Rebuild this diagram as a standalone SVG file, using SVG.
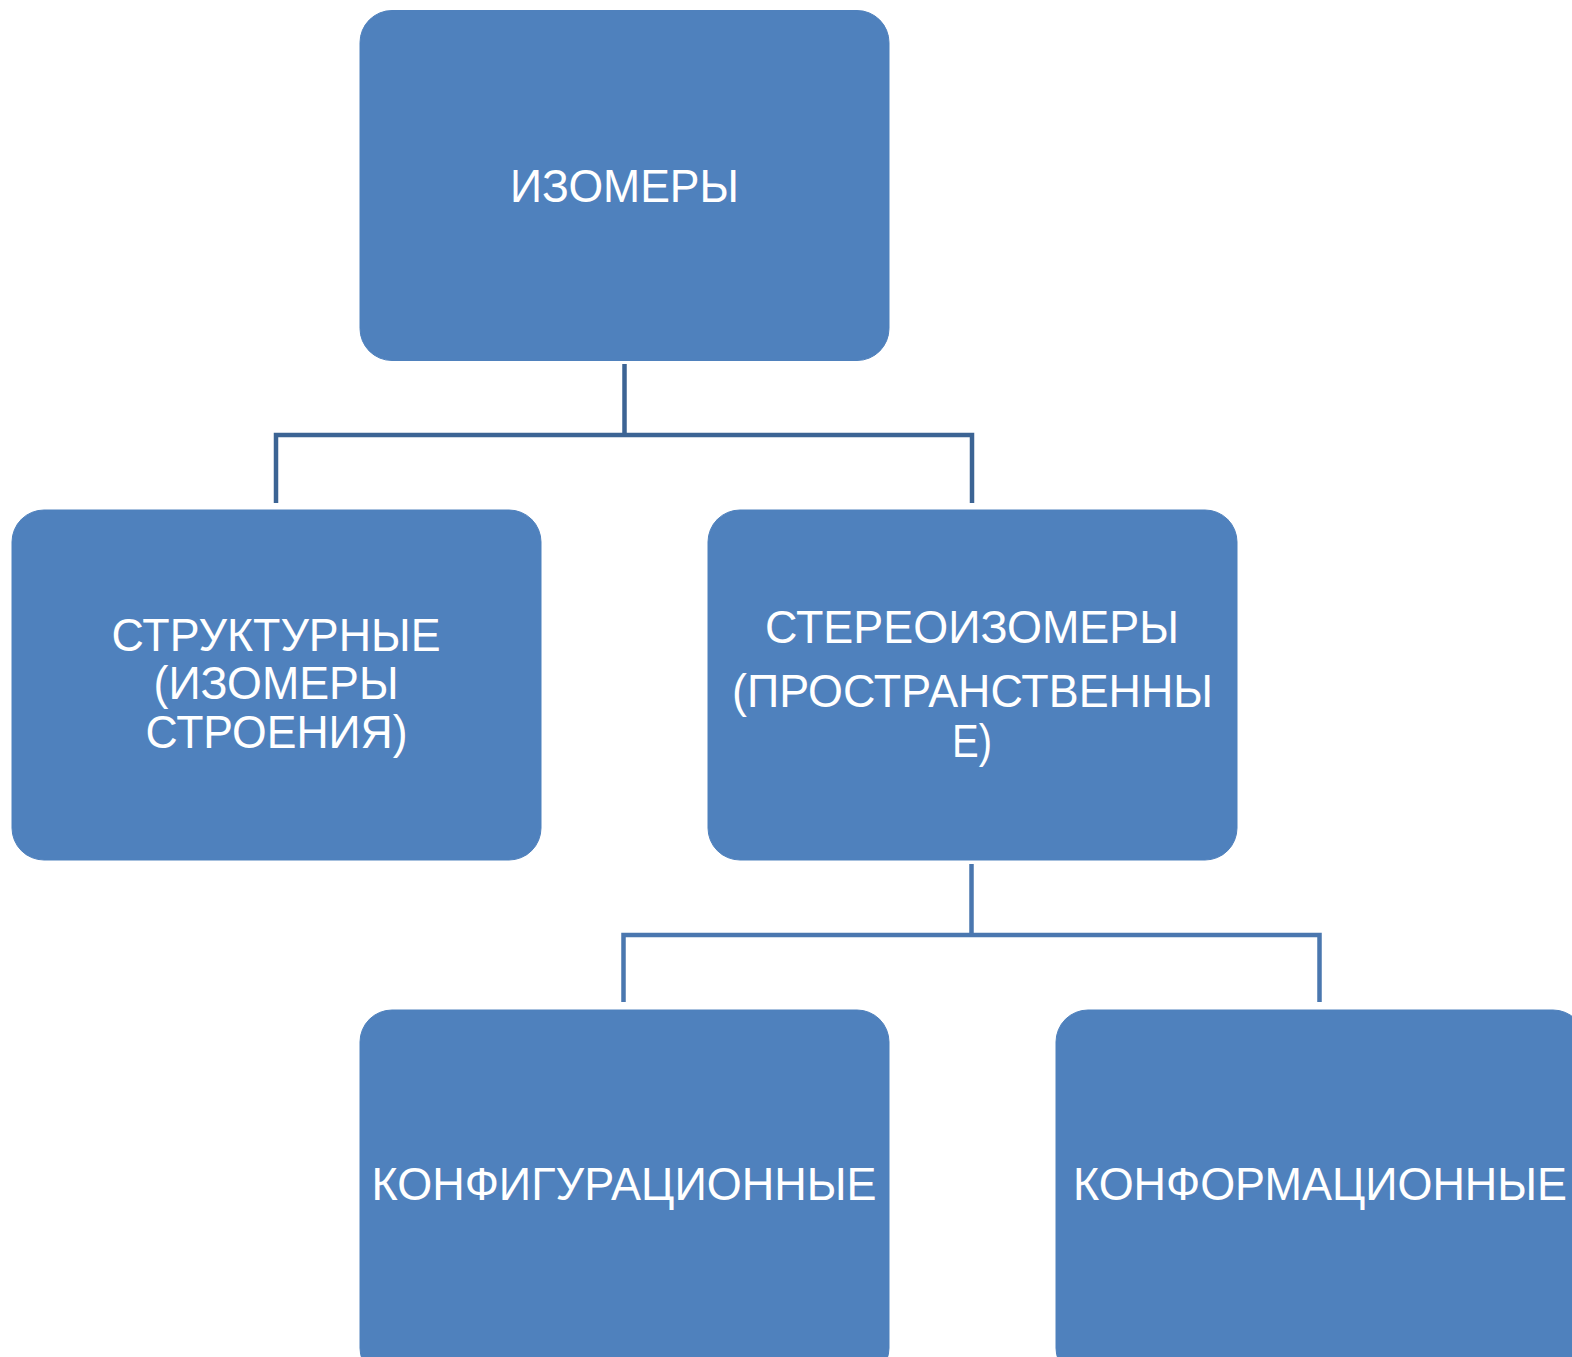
<svg xmlns="http://www.w3.org/2000/svg" width="1572" height="1357" viewBox="0 0 1572 1357">
<style>
.box{fill:#4F81BD;stroke:#4F81BD;stroke-width:1}
.lbl{font-family:"Liberation Sans",Arial,sans-serif;font-size:47px;fill:#FFFFFF;text-anchor:middle}
.c1{fill:none;stroke:#3C6494;stroke-width:4.5;stroke-linejoin:miter}
.c2{fill:none;stroke:#4A77AF;stroke-width:4.5;stroke-linejoin:miter}
</style>
<rect x="0" y="0" width="1572" height="1357" fill="#FFFFFF"/>
<g id="connectors">
<path class="c1" d="M624.5,364 V435 M276,503 V435 H972 V503"/>
<path class="c2" d="M971.5,864 V935 M623.5,1002 V935 H1319.5 V1002"/>
</g>
<g id="node-izomery">
<rect class="box" x="360" y="10.5" width="529" height="350" rx="32" ry="32"/>
<text class="lbl" x="624.5" y="202" textLength="229" lengthAdjust="spacingAndGlyphs">ИЗОМЕРЫ</text>
</g>
<g id="node-strukturnye">
<rect class="box" x="12" y="510" width="529" height="350" rx="32" ry="32"/>
<text class="lbl" x="276" y="651" textLength="329" lengthAdjust="spacingAndGlyphs">СТРУКТУРНЫЕ</text>
<text class="lbl" x="276" y="699" textLength="245" lengthAdjust="spacingAndGlyphs">(ИЗОМЕРЫ</text>
<text class="lbl" x="276.5" y="748" textLength="262" lengthAdjust="spacingAndGlyphs">СТРОЕНИЯ)</text>
</g>
<g id="node-stereoizomery">
<rect class="box" x="708" y="510" width="529" height="350" rx="32" ry="32"/>
<text class="lbl" x="972" y="643" textLength="414" lengthAdjust="spacingAndGlyphs">СТЕРЕОИЗОМЕРЫ</text>
<text class="lbl" x="972.5" y="707" textLength="481" lengthAdjust="spacingAndGlyphs">(ПРОСТРАНСТВЕННЫ</text>
<text class="lbl" x="972" y="757" textLength="40" lengthAdjust="spacingAndGlyphs">Е)</text>
</g>
<g id="node-konfiguratsionnye">
<rect class="box" x="360" y="1010" width="529" height="370" rx="32" ry="32"/>
<text class="lbl" x="624" y="1200" textLength="505" lengthAdjust="spacingAndGlyphs">КОНФИГУРАЦИОННЫЕ</text>
</g>
<g id="node-konformatsionnye">
<rect class="box" x="1056" y="1010" width="529" height="370" rx="32" ry="32"/>
<text class="lbl" x="1320" y="1200" textLength="494" lengthAdjust="spacingAndGlyphs">КОНФОРМАЦИОННЫЕ</text>
</g>
</svg>
